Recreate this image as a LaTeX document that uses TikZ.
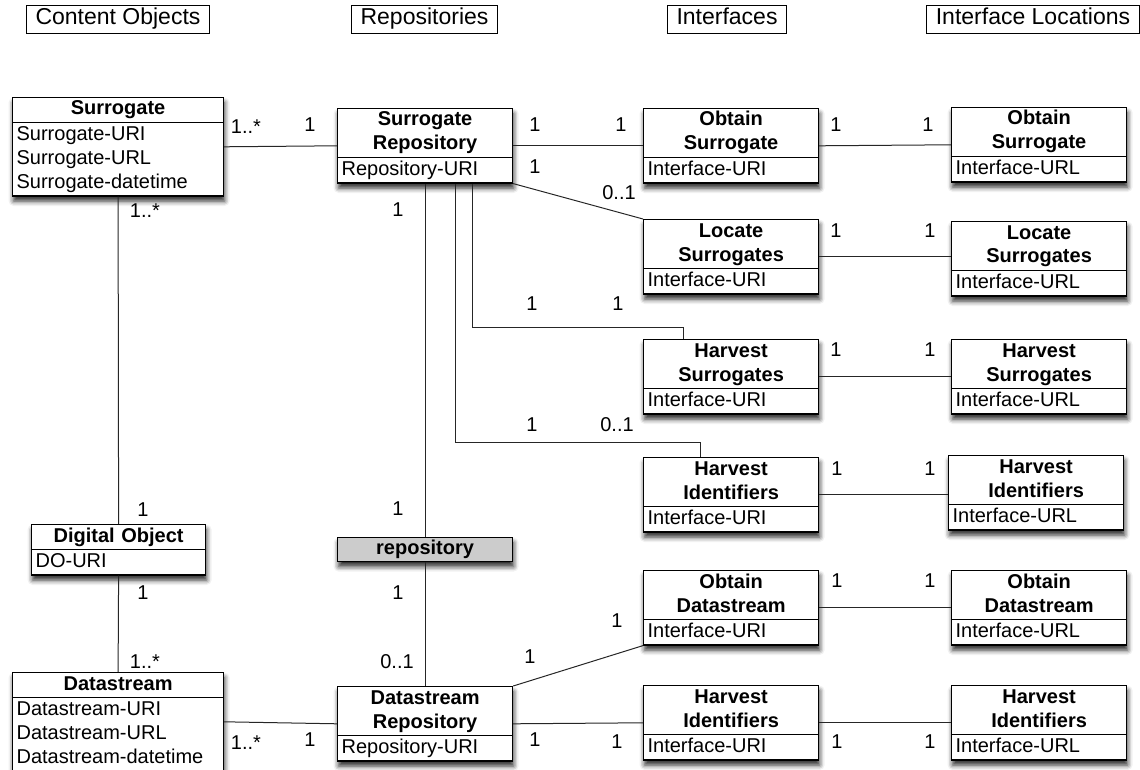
\documentclass[tikz,border=0pt]{standalone}
\usepackage{fontspec}
\setmainfont{Liberation Sans}
\usetikzlibrary{shapes.multipart,shadows.blur}
\setlength{\parindent}{0pt}
\newcommand{\headfont}{\fontsize{23}{27}\selectfont}
\newcommand{\classfont}{\fontsize{20}{24}\selectfont}

\begin{document}
\begin{tikzpicture}[x=1pt, y=-1pt, font=\classfont,
    heading/.style={draw, line width=0.8pt, font=\headfont, inner xsep=9pt,
                    inner ysep=3.5pt, text height=16.5pt, text depth=4.5pt},
    umlclass/.style={draw, line width=1.2pt, fill=white, anchor=north west,
                     rectangle split, rectangle split parts=2,
                     text width=#1, align=center, inner xsep=4pt, inner ysep=0pt,
                     blur shadow={shadow xshift=1pt, shadow yshift=-5pt,
                                  shadow blur radius=5pt, shadow opacity=85}},
    umlclass/.default=167pt,
    rolebox/.style={draw, line width=1.2pt, fill=black!20, anchor=north west,
                    minimum width=175pt, inner ysep=0pt, font=\classfont\bfseries,
                    blur shadow={shadow xshift=1pt, shadow yshift=-5pt,
                                 shadow blur radius=5pt, shadow opacity=85}},
    link/.style={line width=1pt, black!85},
    mult/.style={inner sep=0pt}]
\useasboundingbox (0,0) rectangle (1140,770);

% column headings
\node[heading] (hcontent) at (118,19) {Content Objects};
\node[heading] (hrepos) at (424.5,19) {Repositories};
\node[heading] (hiface) at (727,19) {Interfaces};
\node[heading] (hloc) at (1033,19) {Interface Locations};

% content objects
\node[umlclass=203pt] (sur) at (12,97) {\bfseries\strut Surrogate
    \nodepart{two}\raggedright\strut Surrogate-URI\\Surrogate-URL\\Surrogate-datetime\strut\par};
\node[umlclass=166pt] (dobj) at (31,524) {\bfseries\strut Digital Object
    \nodepart{two}\raggedright\strut DO-URI\par};
\node[umlclass=203pt] (ds) at (12,672) {\bfseries\strut Datastream
    \nodepart{two}\raggedright\strut Datastream-URI\\Datastream-URL\\Datastream-datetime\strut\par};

% repositories
\node[umlclass] (srep) at (337,108) {\bfseries\strut Surrogate\\Repository\strut
    \nodepart{two}\raggedright\strut Repository-URI\par};
\node[rolebox] (repo) at (337,537) {\strut repository};
\node[umlclass] (drep) at (337,686) {\bfseries\strut Datastream\\Repository\strut
    \nodepart{two}\raggedright\strut Repository-URI\par};

% interfaces
\node[umlclass] (obtsur) at (643,108) {\bfseries\strut Obtain\\Surrogate\strut
    \nodepart{two}\raggedright\strut Interface-URI\par};
\node[umlclass] (locsur) at (643,219) {\bfseries\strut Locate\\Surrogates\strut
    \nodepart{two}\raggedright\strut Interface-URI\par};
\node[umlclass] (harsur) at (643,339) {\bfseries\strut Harvest\\Surrogates\strut
    \nodepart{two}\raggedright\strut Interface-URI\par};
\node[umlclass] (harid) at (643,457) {\bfseries\strut Harvest\\Identifiers\strut
    \nodepart{two}\raggedright\strut Interface-URI\par};
\node[umlclass] (obtds) at (643,570) {\bfseries\strut Obtain\\Datastream\strut
    \nodepart{two}\raggedright\strut Interface-URI\par};
\node[umlclass] (harid2) at (643,685) {\bfseries\strut Harvest\\Identifiers\strut
    \nodepart{two}\raggedright\strut Interface-URI\par};

% interface locations
\node[umlclass] (obtsurloc) at (951,107) {\bfseries\strut Obtain\\Surrogate\strut
    \nodepart{two}\raggedright\strut Interface-URL\par};
\node[umlclass] (locsurloc) at (951,221) {\bfseries\strut Locate\\Surrogates\strut
    \nodepart{two}\raggedright\strut Interface-URL\par};
\node[umlclass] (harsurloc) at (951,339) {\bfseries\strut Harvest\\Surrogates\strut
    \nodepart{two}\raggedright\strut Interface-URL\par};
\node[umlclass] (haridloc) at (948,455) {\bfseries\strut Harvest\\Identifiers\strut
    \nodepart{two}\raggedright\strut Interface-URL\par};
\node[umlclass] (obtdsloc) at (951,570) {\bfseries\strut Obtain\\Datastream\strut
    \nodepart{two}\raggedright\strut Interface-URL\par};
\node[umlclass] (harid2loc) at (951,685) {\bfseries\strut Harvest\\Identifiers\strut
    \nodepart{two}\raggedright\strut Interface-URL\par};

% associations
\draw[link] (sur.east) -- (srep.west);
\draw[link] (sur.south) -- (dobj.north);
\draw[link] (dobj.south) -- (ds.north);
\draw[link] (ds.east) -- (drep.west);
\draw[link] (srep.east) -- (obtsur.west);
\draw[link] (srep.south east) -- (locsur.north west);
\draw[link] ([xshift=47.5pt]srep.south) -- ++(0,144) -| ([xshift=-47.5pt]harsur.north);
\draw[link] ([xshift=30.5pt]srep.south) -- ++(0,259) -| ([xshift=-31pt]harid.north);
\draw[link] (srep.south) -- (repo.north);
\draw[link] (repo.south) -- (drep.north);
\draw[link] (drep.north east) -- (obtds.south west);
\draw[link] (drep.east) -- (harid2.west);
\draw[link] (obtsur.east) -- (obtsurloc.west);
\draw[link] (locsur.east) -- (locsur.east -| locsurloc.west);
\draw[link] (harsur.east) -- (harsurloc.west);
\draw[link] (harid.east) -- (harid.east -| haridloc.west);
\draw[link] (obtds.east) -- (obtdsloc.west);
\draw[link] (harid2.east) -- (harid2loc.west);

% multiplicities
\foreach \px/\py/\txt [count=\i] in {246/127/{1..*}, 310/125/1, 535/125/1, 621/125/1,
    836/125/1, 928/125/1, 535/167/1, 619/193/{0..1}, 145/211/{1..*}, 398/210/1,
    836/231/1, 930/231/1, 532/304/1, 618/304/1, 836/350/1, 930/350/1,
    532/425/1, 617/425/{0..1}, 837/469/1, 930/469/1,
    143/510/1, 143/593/1, 398/509/1, 398/593/1,
    837/581/1, 930/581/1, 617/621/1, 530/657/1,
    145/662/{1..*}, 397/662/{0..1},
    246/743/{1..*}, 310/740/1, 535/740/1, 617/742/1, 837/742/1, 930/742/1}
  \node[mult] (m\i) at (\px,\py) {\txt};
\end{tikzpicture}
\end{document}
